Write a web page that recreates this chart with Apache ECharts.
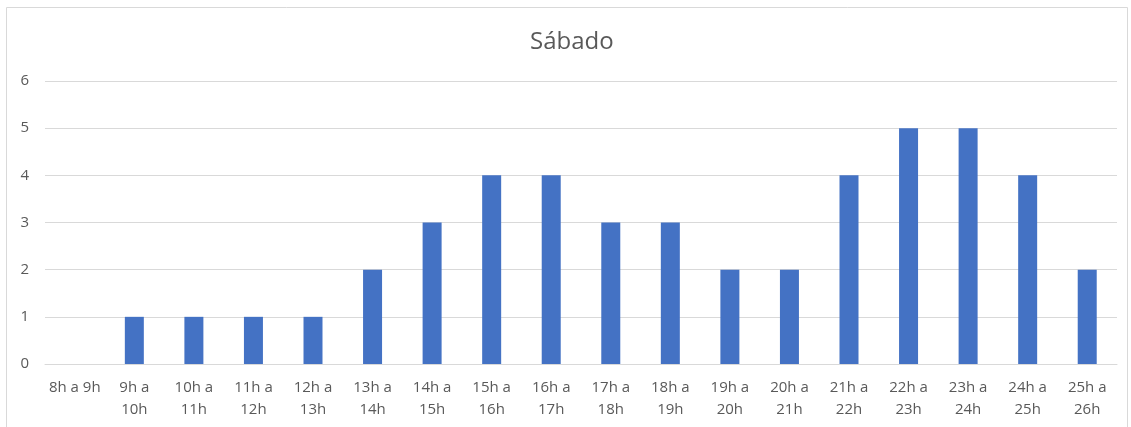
<!DOCTYPE html>
<html>
<head>
<meta charset="utf-8">
<script src="https://cdn.jsdelivr.net/npm/echarts@6/dist/echarts.min.js"></script>
<style>
html, body { margin: 0; padding: 0; background: #fff; }
#chart { width: 1131px; height: 427px; }
</style>
</head>
<body>
<div id="chart"></div>
<script>
// franjas horarias
var categorias = ['8h a 9h', '9h a\n10h', '10h a\n11h', '11h a\n12h', '12h a\n13h', '13h a\n14h',
    '14h a\n15h', '15h a\n16h', '16h a\n17h', '17h a\n18h', '18h a\n19h', '19h a\n20h',
    '20h a\n21h', '21h a\n22h', '22h a\n23h', '23h a\n24h', '24h a\n25h', '25h a\n26h'];
var valores = [0, 1, 1, 1, 1, 2, 3, 4, 4, 3, 3, 2, 2, 4, 5, 5, 4, 2];
var yMin = 0, yMax = 6, yPaso = 1;

var chart = echarts.init(document.getElementById('chart'));
chart.setOption({
    animation: false,
    title: {
        text: 'Sábado',
        left: 525,
        top: 25,
        textStyle: {
            fontFamily: 'Open Sans',
            fontWeight: 'normal',
            fontSize: 24,
            color: '#595959'
        }
    },
    graphic: [{
        type: 'rect',
        shape: { x: 6.5, y: 7.5, width: 1121, height: 430 },
        style: { fill: 'none', stroke: '#d9d9d9', lineWidth: 1 },
        silent: true
    }],
    grid: {
        left: 45,
        right: 14,
        top: 81,
        bottom: 63,
        containLabel: false
    },
    xAxis: {
        type: 'category',
        data: categorias,
        axisTick: { show: false },
        axisLine: { lineStyle: { color: '#d9d9d9', width: 1 } },
        axisLabel: {
            interval: 0,
            margin: 13,
            lineHeight: 22,
            fontFamily: 'Open Sans',
            fontSize: 15,
            color: '#595959'
        }
    },
    yAxis: {
        type: 'value',
        min: yMin,
        max: yMax,
        interval: yPaso,
        axisLine: { show: false },
        axisTick: { show: false },
        splitLine: { lineStyle: { color: '#d9d9d9', width: 1 } },
        axisLabel: {
            margin: 16,
            fontFamily: 'Open Sans',
            fontSize: 15,
            color: '#595959'
        }
    },
    series: [{
        name: 'Sábado',
        type: 'bar',
        data: valores,
        barWidth: 19,
        itemStyle: { color: '#4472c4' }
    }]
});
</script>
</body>
</html>
